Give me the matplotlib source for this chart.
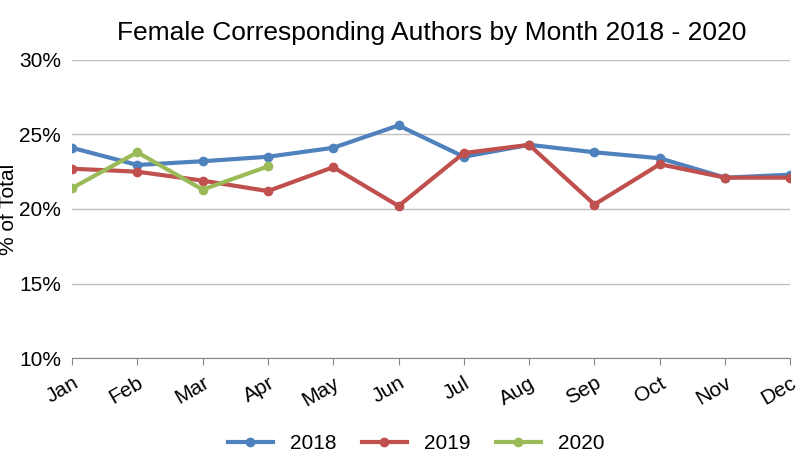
import matplotlib
matplotlib.use("Agg")
import matplotlib.pyplot as plt

months = ["Jan", "Feb", "Mar", "Apr", "May", "Jun", "Jul", "Aug", "Sep", "Oct", "Nov", "Dec"]
pct_2018 = [24.1, 22.95, 23.2, 23.5, 24.1, 25.6, 23.5, 24.3, 23.8, 23.4, 22.1, 22.3]
pct_2019 = [22.7, 22.5, 21.9, 21.2, 22.8, 20.2, 23.75, 24.3, 20.3, 23.0, 22.1, 22.1]
pct_2020 = [21.4, 23.8, 21.3, 22.85]

plt.rcParams["font.family"] = "Liberation Sans"
fig = plt.figure(figsize=(8, 4.67), dpi=100)
ax = fig.add_axes([0.09, 0.233, 0.898, 0.639])

x = list(range(len(months)))
ax.plot(x, pct_2018, color="#4f81bd", lw=3, marker="o", ms=6, label="2018")
ax.plot(x, pct_2019, color="#c0504d", lw=3, marker="o", ms=6, label="2019")
ax.plot(x[:len(pct_2020)], pct_2020, color="#9bbb59", lw=3, marker="o", ms=6, label="2020")

ax.set_xlim(0, 11)
ax.set_ylim(10, 30)
ax.set_yticks([10, 15, 20, 25, 30])
ax.set_yticklabels([f"{v}%" for v in [10, 15, 20, 25, 30]], fontsize=15)
ax.set_xticks(x)
ax.set_xticklabels(months, rotation=30, fontsize=15, ha="right", rotation_mode="anchor")
ax.tick_params(axis="y", length=0, pad=8)
ax.tick_params(axis="x", length=5, color="#888888", pad=6)
ax.grid(axis="y", color="#bfbfbf", lw=1)
ax.set_axisbelow(True)
for s in ["top", "right", "left"]:
    ax.spines[s].set_visible(False)
ax.spines["bottom"].set_color("#888888")
ax.set_ylabel("% of Total", fontsize=15, labelpad=4)
ax.yaxis.set_label_coords(-0.075, 0.5)
ax.set_title("Female Corresponding Authors by Month 2018 - 2020", fontsize=19, pad=14)
fig.legend(loc="lower center", ncol=3, frameon=False, fontsize=15,
           bbox_to_anchor=(0.52, -0.01), handlelength=2.2, columnspacing=1.2)
fig.savefig("out.png")
